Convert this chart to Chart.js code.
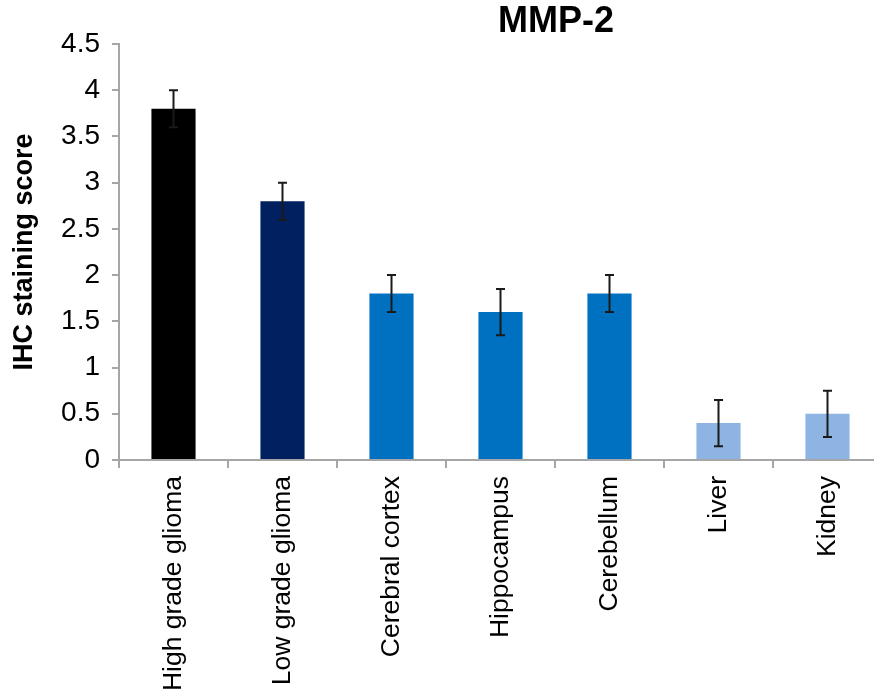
<!DOCTYPE html>
<html>
<head>
<meta charset="utf-8">
<script src="https://cdn.jsdelivr.net/npm/chart.js@4"></script>
<style>
  html, body { margin: 0; padding: 0; background: #fff; overflow: hidden; }
  #wrap { position: absolute; left: 0; top: 0; width: 890px; height: 695px; }
</style>
</head>
<body>
<div id="wrap"><canvas id="c"></canvas></div>
<script>
const categories = ["High grade glioma", "Low grade glioma", "Cerebral cortex", "Hippocampus", "Cerebellum", "Liver", "Kidney"];
const scores = [3.8, 2.8, 1.8, 1.6, 1.8, 0.4, 0.5];
const errors = [0.2, 0.2, 0.2, 0.25, 0.2, 0.25, 0.25];
const barColors = ["#000000", "#002060", "#0070C0", "#0070C0", "#0070C0", "#8DB4E2", "#8DB4E2"];
const yTicks = [0, 0.5, 1, 1.5, 2, 2.5, 3, 3.5, 4, 4.5];
const chartTitle = "MMP-2";
const yTitle = "IHC staining score";

const FONT = "'Liberation Sans', Arial, sans-serif";

const errorBarPlugin = {
  id: 'errorBars',
  afterDatasetsDraw(chart) {
    const ctx = chart.ctx;
    const meta = chart.getDatasetMeta(0);
    const y = chart.scales.y;
    ctx.save();
    ctx.strokeStyle = '#1a1a1a';
    ctx.lineWidth = 2;
    meta.data.forEach((bar, i) => {
      const x = bar.x;
      const yTop = y.getPixelForValue(scores[i] + errors[i]);
      const yBot = y.getPixelForValue(scores[i] - errors[i]);
      ctx.beginPath();
      ctx.moveTo(x, yTop); ctx.lineTo(x, yBot);
      ctx.moveTo(x - 4.5, yTop); ctx.lineTo(x + 4.5, yTop);
      ctx.moveTo(x - 4.5, yBot); ctx.lineTo(x + 4.5, yBot);
      ctx.stroke();
    });
    ctx.restore();
  }
};

const titlePlugin = {
  id: 'fixedTitle',
  afterDraw(chart) {
    const ctx = chart.ctx;
    ctx.save();
    ctx.font = "bold 36px " + FONT;
    ctx.fillStyle = '#000';
    ctx.textAlign = 'center';
    ctx.textBaseline = 'middle';
    ctx.fillText(chartTitle, 556, 22);
    ctx.restore();
  }
};

new Chart(document.getElementById('c'), {
  type: 'bar',
  data: {
    labels: categories,
    datasets: [{
      data: scores,
      backgroundColor: barColors,
      borderWidth: 0,
      barPercentage: 0.405,
      categoryPercentage: 1.0
    }]
  },
  options: {
    responsive: true,
    maintainAspectRatio: false,
    animation: false,
    layout: { padding: { top: 44, right: 8, left: 0, bottom: 0 } },
    plugins: {
      legend: { display: false },
      tooltip: { enabled: false },
      title: { display: false }
    },
    scales: {
      x: {
        afterFit(scale) { scale.height = 235; },
        grid: {
          offset: true,
          drawOnChartArea: false,
          drawTicks: true,
          tickLength: 8,
          color: '#A6A6A6',
          lineWidth: 2
        },
        border: { display: true, color: '#A6A6A6', width: 2 },
        ticks: {
          minRotation: 90,
          maxRotation: 90,
          autoSkip: false,
          padding: 8,
          color: '#000',
          font: { family: FONT, size: 26.5 }
        }
      },
      y: {
        min: 0,
        max: 4.5,
        afterFit(scale) { scale.width = 119; },
        afterBuildTicks(scale) { scale.ticks = yTicks.map(v => ({ value: v })); },
        grid: {
          drawOnChartArea: false,
          drawTicks: true,
          tickLength: 7,
          color: '#A6A6A6',
          lineWidth: 2
        },
        border: { display: true, color: '#A6A6A6', width: 2 },
        ticks: {
          padding: 12,
          color: '#000',
          font: { family: FONT, size: 28 },
          callback: (v) => String(v)
        },
        title: {
          display: true,
          text: yTitle,
          color: '#000',
          font: { family: FONT, size: 27, weight: 'bold' },
          padding: { top: 8, bottom: 0 }
        }
      }
    }
  },
  plugins: [errorBarPlugin, titlePlugin]
});
</script>
</body>
</html>
